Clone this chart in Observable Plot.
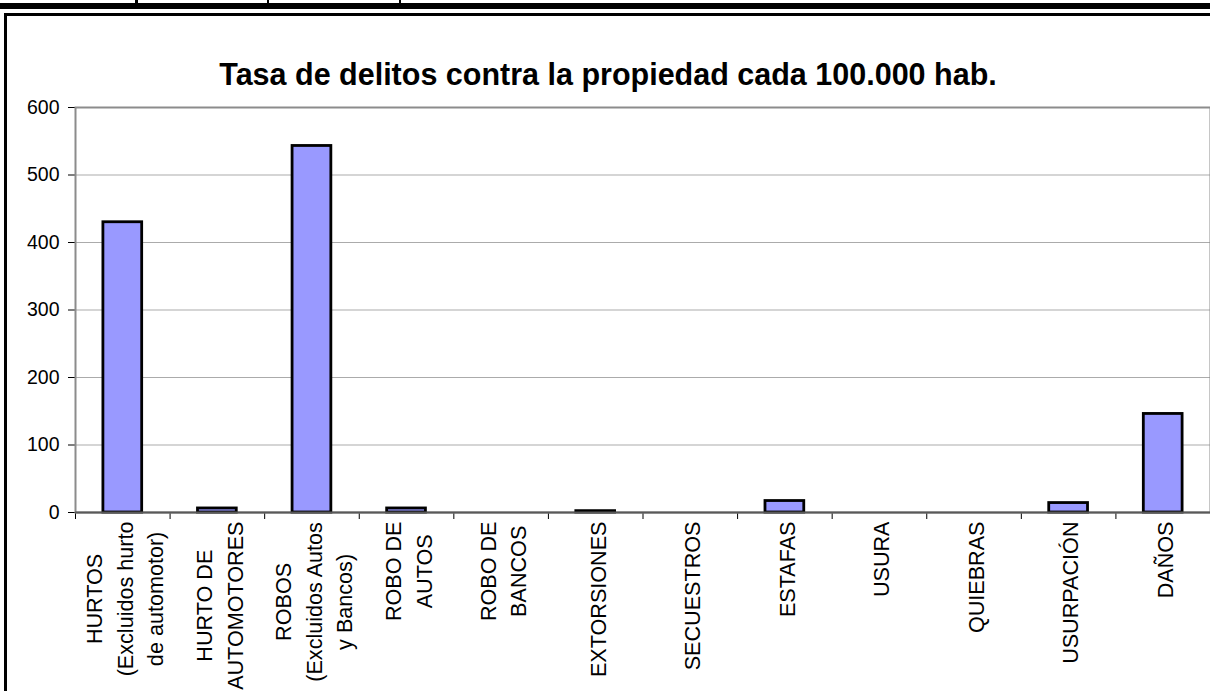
<!DOCTYPE html>
<html><head><meta charset="utf-8">
<script src="https://cdn.jsdelivr.net/npm/d3@7"></script>
<script src="https://cdn.jsdelivr.net/npm/@observablehq/plot@0.6"></script>
<style>
html,body{margin:0;padding:0;background:#fff;}
body{width:1210px;height:691px;overflow:hidden;position:relative;font-family:"Liberation Sans",Arial,sans-serif;}
#band{position:absolute;left:0;top:3px;width:1210px;height:6px;background:#000;}
.vl{position:absolute;top:0;height:4px;background:#000;}
#frame{position:absolute;left:4px;top:13px;width:1300px;height:800px;border:3px solid #000;box-sizing:border-box;}
#title{position:absolute;left:0;width:1216px;top:56px;text-align:center;font-weight:bold;font-size:30.5px;line-height:36px;color:#000;}
#chart{position:absolute;left:0;top:90px;width:1230px;}
#chart svg{max-width:none !important;}
</style></head><body>
<div id="band"></div>
<div class="vl" style="left:135px;width:3px"></div>
<div class="vl" style="left:267px;width:2px"></div>
<div class="vl" style="left:399px;width:2px"></div>
<div id="frame"></div>
<div id="title">Tasa de delitos contra la propiedad cada 100.000 hab.</div>
<div id="chart"></div>
<script>
const categories = [
  "HURTOS\n(Excluidos hurto\nde automotor)",
  "HURTO DE\nAUTOMOTORES",
  "ROBOS\n(Excluidos Autos\ny Bancos)",
  "ROBO DE\nAUTOS",
  "ROBO DE\nBANCOS",
  "EXTORSIONES",
  "SECUESTROS",
  "ESTAFAS",
  "USURA",
  "QUIEBRAS",
  "USURPACIÓN",
  "DAÑOS"
];
const values = [430, 6, 543, 6, 0, 2, 0, 17, 0, 0, 14, 146];
const yTicks = [0, 100, 200, 300, 400, 500, 600];

const labelFont = 21.6;
const barFraction = 0.41; // bar width relative to category slot
const data = categories.map((c, i) => ({i, label: c, value: values[i]}));
const bounds = d3.range(categories.length + 1);

// measure longest line of each label so lines are centred on each other (Excel style)
const ctx = document.createElement("canvas").getContext("2d");
ctx.font = `${labelFont}px 'Liberation Sans', Arial, sans-serif`;
const maxLen = categories.map(c => d3.max(c.split("\n"), s => ctx.measureText(s).width));

const labelMarks = data.map((d, k) => Plot.text([d], {
  x: d => d.i + 0.5,
  y: 0,
  text: "label",
  rotate: -90,
  textAnchor: "middle",
  lineAnchor: "middle",
  lineHeight: 1.42,
  dy: 9 + maxLen[k] / 2,
  fontSize: labelFont,
  fill: "#000"
}));

const chart = Plot.plot({
  width: 1230,
  height: 601,
  marginLeft: 75,
  marginRight: 20,
  marginTop: 17,
  marginBottom: 179,
  style: {fontFamily: "'Liberation Sans', Arial, sans-serif", fontSize: "19.5px", background: "transparent", overflow: "visible", color: "#000", maxWidth: "none"},
  x: {domain: [0, categories.length], ticks: bounds, tickFormat: () => "", tickSize: 7, label: null},
  y: {domain: [0, 600], ticks: yTicks, tickSize: 7, tickPadding: 9, label: null},
  marks: [
    Plot.ruleY(yTicks.slice(1, -1), {stroke: "#ababab", strokeWidth: 1}),
    Plot.frame({stroke: "#8c8c8c", strokeWidth: 2}),
    Plot.rect(data, {
      filter: d => d.value > 0,
      x1: d => d.i + (1 - barFraction) / 2,
      x2: d => d.i + (1 + barFraction) / 2,
      y1: 0,
      y2: "value",
      fill: "#9999FF",
      stroke: "#000",
      strokeWidth: 2.8
    }),
    Plot.ruleY([0], {stroke: "#595959", strokeWidth: 2}),
    ...labelMarks
  ]
});
document.getElementById("chart").appendChild(chart);
</script>
</body></html>
